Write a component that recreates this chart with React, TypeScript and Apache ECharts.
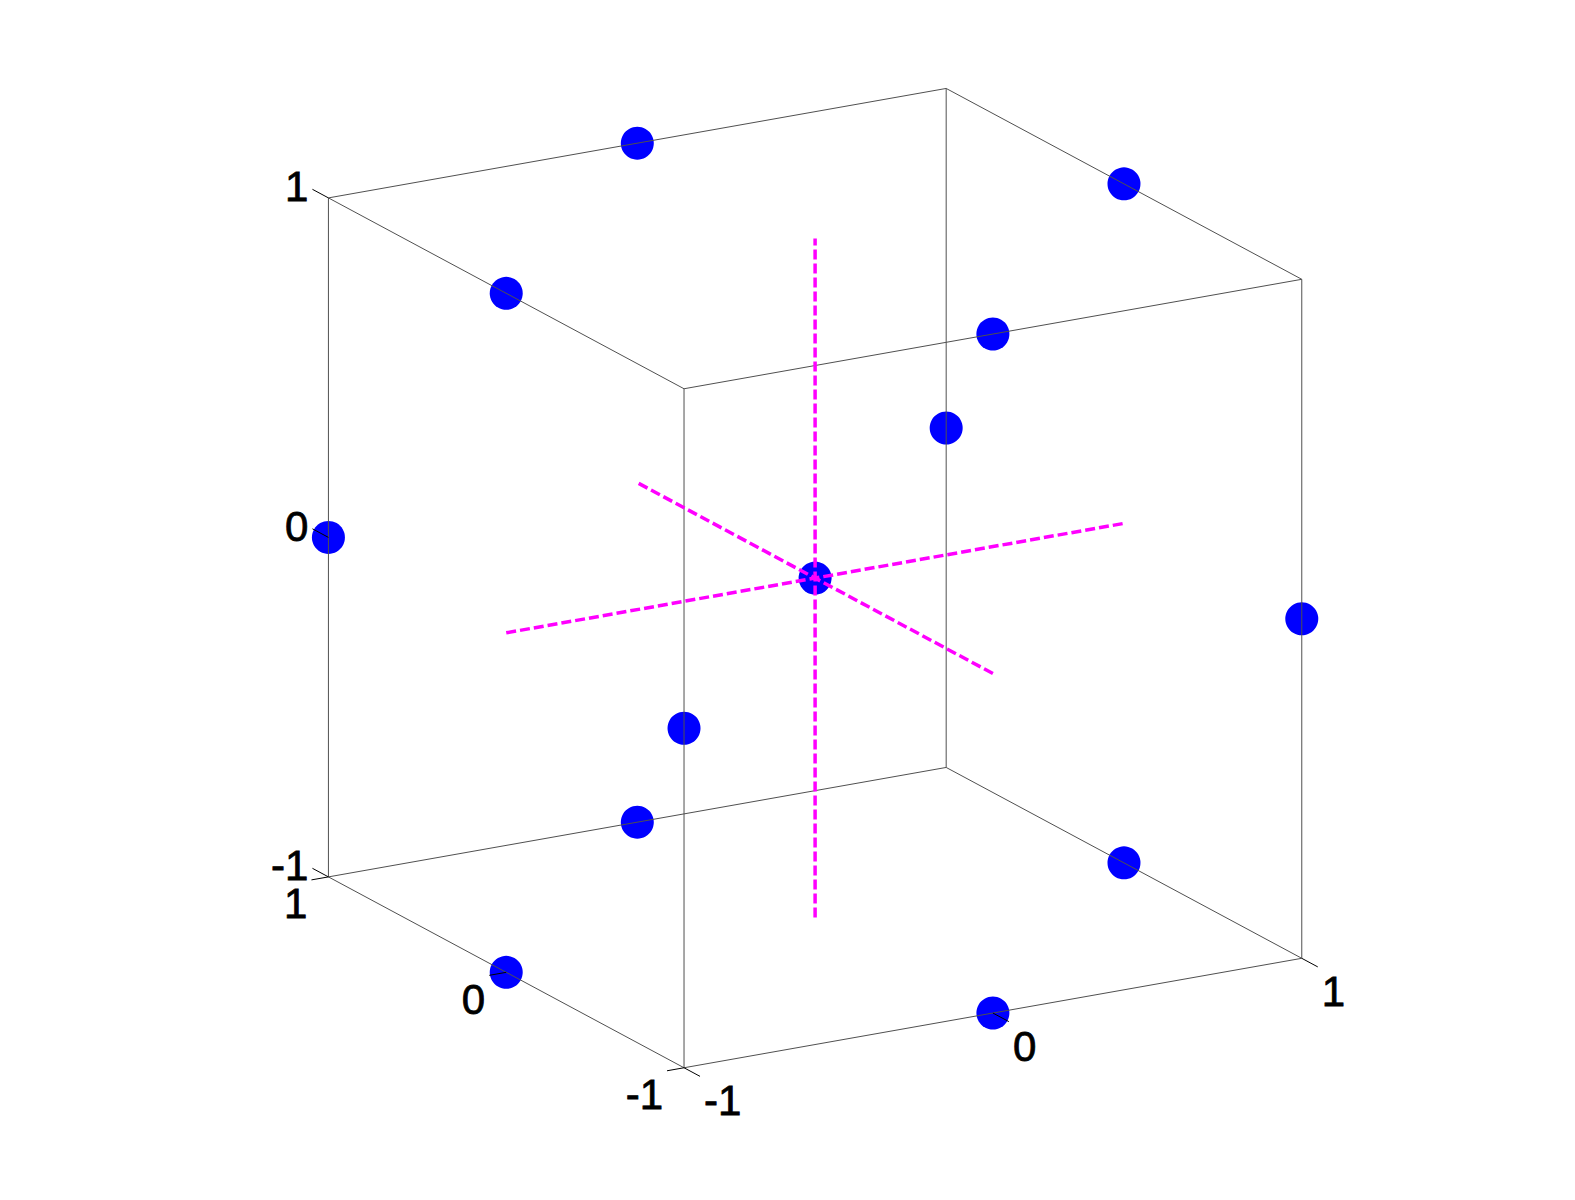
import React, { useEffect, useRef } from "react";
import * as echarts from "echarts";

// ---- data ----
const tickValues = [-1, 0, 1];
const tickLabels = ["-1", "0", "1"];
const cubeMin = -1;
const cubeMax = 1;

// points: midpoints of the 12 cube edges plus the centre
const pointsX = [0, 0, -1, 1, 0, 0, -1, 1, -1, 1, -1, 1, 0];
const pointsY = [-1, 1, 0, 0, -1, 1, 0, 0, -1, 1, 1, -1, 0];
const pointsZ = [-1, -1, -1, -1, 1, 1, 1, 1, 0, 0, 0, 0, 0];

// dashed guide lines through the centre: [x1,y1,z1,x2,y2,z2]
const guideLines = [
  [-1, 0, 0, 1, 0, 0],
  [0, -1, 0, 0, 1, 0],
  [0, 0, -1, 0, 0, 1],
];

// ---- view projection (orthographic, 3D -> 2D view plane) ----
const EX = [0.9098, 0.1612];
const EY = [-0.5237, 0.2811];
const EZ = [0, 1];
function project(x: number, y: number, z: number): [number, number] {
  return [x * EX[0] + y * EY[0] + z * EZ[0], x * EX[1] + y * EY[1] + z * EZ[1]];
}

// cube edges
const corners: number[][] = [];
for (const x of [cubeMin, cubeMax])
  for (const y of [cubeMin, cubeMax])
    for (const z of [cubeMin, cubeMax]) corners.push([x, y, z]);
const edgeSegs: number[][] = [];
for (let i = 0; i < corners.length; i++)
  for (let j = i + 1; j < corners.length; j++) {
    const a = corners[i], b = corners[j];
    let diff = 0;
    for (let k = 0; k < 3; k++) if (a[k] !== b[k]) diff++;
    if (diff === 1) edgeSegs.push([...project(a[0], a[1], a[2]), ...project(b[0], b[1], b[2])]);
  }

// tick marks
const tickSegs: number[][] = [];
tickValues.forEach((t) => {
  tickSegs.push([...project(-1, 1, t), ...project(-1, 1.09, t)]); // z ticks
  tickSegs.push([...project(-1, t, -1), ...project(-1.055, t, -1)]); // y ticks
  tickSegs.push([...project(t, -1, -1), ...project(t, -1.09, -1)]); // x ticks
});

const guideSegs = guideLines.map((g) => [...project(g[0], g[1], g[2]), ...project(g[3], g[4], g[5])]);

// labels: [u, v, labelIndex, kind]  kind 0=z,1=y,2=x
const labelData: any[] = [];
tickValues.forEach((t, i) => {
  labelData.push([...project(-1, 1, t), i, 0]);
  labelData.push([...project(-1, t, -1), i, 1]);
  labelData.push([...project(t, -1, -1), i, 2]);
});

const dotData = pointsX.map((x, i) => project(x, pointsY[i], pointsZ[i]));

const FONT = "42px 'Liberation Sans', Arial, sans-serif";

function segRenderer(color: string, width: number, dash?: number[]) {
  return (params: any, api: any) => {
    const p1 = api.coord([api.value(0), api.value(1)]);
    const p2 = api.coord([api.value(2), api.value(3)]);
    return {
      type: "line",
      shape: { x1: p1[0], y1: p1[1], x2: p2[0], y2: p2[1] },
      style: { stroke: color, lineWidth: width, lineDash: dash, fill: null },
    };
  };
}

export default function App() {
  const ref = useRef<HTMLDivElement>(null);
  useEffect(() => {
    if (!ref.current) return;
    const chart = echarts.init(ref.current, undefined, { renderer: "svg" });
    const S = 339.5;
    const cx = 815.1;
    const cy = 578.1;
    chart.setOption({
      animation: false,
      backgroundColor: "#ffffff",
      grid: { left: 0, top: 0, width: 1575, height: 1200, containLabel: false },
      xAxis: { type: "value", min: -cx / S, max: (1575 - cx) / S, show: false },
      yAxis: { type: "value", min: -(1200 - cy) / S, max: cy / S, show: false },
      series: [
        {
          type: "scatter",
          data: dotData,
          symbol: "circle",
          symbolSize: 33,
          itemStyle: { color: "#0000ff", opacity: 1 },
          z: 2,
          silent: true,
        },
        {
          type: "custom",
          data: edgeSegs,
          renderItem: segRenderer("#505050", 1),
          z: 3,
          silent: true,
        },
        {
          type: "custom",
          data: tickSegs,
          renderItem: segRenderer("#000000", 1),
          z: 3,
          silent: true,
        },
        {
          type: "custom",
          data: guideSegs,
          renderItem: segRenderer("#ff00ff", 3.5, [10, 4]),
          z: 4,
          silent: true,
        },
        {
          type: "custom",
          data: labelData,
          z: 5,
          silent: true,
          renderItem: (params: any, api: any) => {
            const p = api.coord([api.value(0), api.value(1)]);
            const idx = api.value(2);
            const kind = api.value(3);
            let dx = 0, dy = 0, align = "left";
            if (kind === 0) { dx = -20; dy = -11; align = "right"; }
            else if (kind === 1) { dx = -21; dy = 27; align = "right"; }
            else { dx = 20; dy = 33; align = "left"; }
            return {
              type: "text",
              x: p[0] + dx,
              y: p[1] + dy,
              style: {
                text: tickLabels[idx],
                fill: "#000000",
                stroke: "#000000",
                lineWidth: 0.8,
                font: FONT,
                lineHeight: 32,
                align,
                verticalAlign: "middle",
              },
            };
          },
        },
      ],
    });
    return () => chart.dispose();
  }, []);
  return (
    <div
      ref={ref}
      style={{ position: "absolute", left: 0, top: 0, width: 1575, height: 1200 }}
    />
  );
}
